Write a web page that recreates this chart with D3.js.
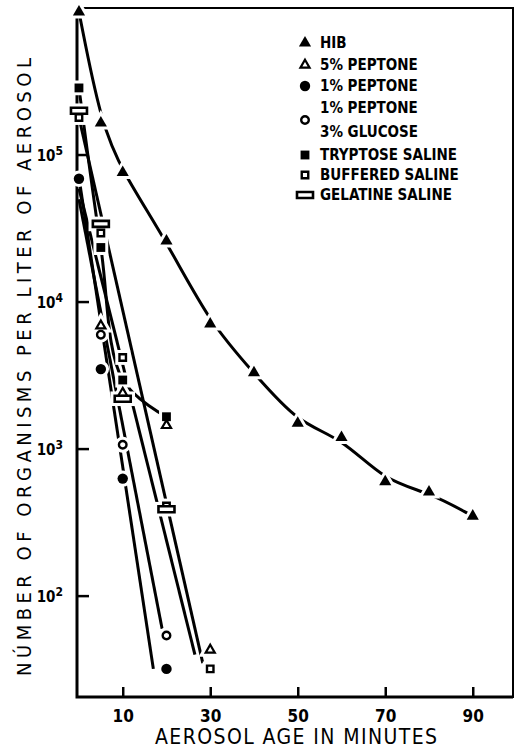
<!DOCTYPE html>
<html>
<head>
<meta charset="utf-8">
<script src="https://cdn.jsdelivr.net/npm/d3@7"></script>
<style>
  body { margin: 0; background: #fff; }
  text { font-family: "Liberation Sans Narrow", "DejaVu Sans Condensed", sans-serif; fill: #000; font-weight: 600; }
  text.title { font-weight: 400; }
</style>
</head>
<body>
<div id="chart"></div>
<script>
// values (minutes, organisms per liter)
const hibTime = [0, 5, 10, 20, 30, 40, 50, 60, 70, 80, 90];
const hibCount = [9.4e5, 1.65e5, 7.6e4, 2.6e4, 7.1e3, 3.3e3, 1.5e3, 1.2e3, 600, 510, 350];

const pep5Time = [5, 10, 20, 30];
const pep5Count = [6.9e3, 2.4e3, 1.45e3, 43];

const pep1Time = [0, 5, 10, 20];
const pep1Count = [6.9e4, 3.5e3, 630, 32];

const glucTime = [5, 10, 20];
const glucCount = [6.0e3, 1.07e3, 54];

const trypTime = [0, 5, 10, 20];
const trypCount = [2.86e5, 2.35e4, 2.95e3, 1.66e3];

const buffTime = [0, 5, 10, 20, 30];
const buffCount = [1.8e5, 2.95e4, 4.2e3, 410, 32];

const gelTime = [0, 5, 10, 20];
const gelCount = [2.0e5, 3.4e4, 2.2e3, 390];

// straight fitted lines, start and end
const pep1Fit = [[0, 7e4], [17, 32]];
const glucFit = [[0, 5e4], [19, 60]];
const pep5Fit = [[0, 5.9e4], [26.5, 40]];
const buffFit = [[0, 1.8e5], [28.3, 35]];

const xTicks = [10, 30, 50, 70, 90];
const yTicks = [1e2, 1e3, 1e4, 1e5];
const yTickExp = ["2", "3", "4", "5"];

const legendLabels = [["HIB"], ["5% PEPTONE"], ["1% PEPTONE"], ["1% PEPTONE", "3% GLUCOSE"],
  ["TRYPTOSE SALINE"], ["BUFFERED SALINE"], ["GELATINE SALINE"]];

const zip = (t, v) => t.map((d, i) => [d, v[i]]);

const width = 528, height = 748;
const plotLeft = 77, plotRight = 513, plotTop = 8, plotBottom = 697;

const svg = d3.select("#chart").append("svg")
  .attr("width", width).attr("height", height);

const x = d3.scaleLinear().domain([-0.45, 99.2]).range([plotLeft, plotRight]);
const y = d3.scaleLog().domain([20.6, 1e6]).range([plotBottom, plotTop]);

// frame
svg.append("rect")
  .attr("x", plotLeft).attr("y", plotTop)
  .attr("width", plotRight - plotLeft).attr("height", plotBottom - plotTop)
  .attr("fill", "none").attr("stroke", "#000").attr("stroke-width", 2);
svg.append("path")
  .attr("d", `M${plotLeft},${plotTop}V${plotBottom}H${plotRight}`)
  .attr("fill", "none").attr("stroke", "#000").attr("stroke-width", 3);

// x axis
const xAxis = svg.append("g")
  .attr("transform", `translate(0,${plotBottom})`)
  .call(d3.axisBottom(x).tickValues(xTicks).tickSizeInner(-10).tickSizeOuter(0).tickPadding(13));
xAxis.select(".domain").remove();
xAxis.attr("font-family", null);
xAxis.selectAll(".tick line").attr("stroke-width", 2.5);
xAxis.selectAll(".tick text").attr("font-size", 17);

// y ticks
const yt = svg.append("g").selectAll("g").data(yTicks).join("g")
  .attr("transform", (d) => `translate(0,${y(d)})`);
yt.append("line").attr("x1", plotLeft).attr("x2", plotLeft + 12)
  .attr("stroke", "#000").attr("stroke-width", 2.5);
const ylab = yt.append("text").attr("x", 63).attr("y", 6)
  .attr("text-anchor", "end").attr("font-size", 15);
ylab.append("tspan").text("10");
ylab.append("tspan").attr("dy", -6).attr("font-size", 12).text((d, i) => yTickExp[i]);

// axis titles
svg.append("text").attr("class", "title")
  .attr("x", 296).attr("y", 744)
  .attr("text-anchor", "middle").attr("font-size", 21)
  .attr("textLength", 282).attr("lengthAdjust", "spacing")
  .text("AEROSOL AGE IN MINUTES");
svg.append("text").attr("class", "title")
  .attr("transform", "translate(31,367) rotate(-90)")
  .attr("text-anchor", "middle").attr("font-size", 20)
  .attr("textLength", 618).attr("lengthAdjust", "spacing")
  .text("NÚMBER OF ORGANISMS PER LITER OF AEROSOL");

// lines
const smooth = d3.line().x((d) => x(d[0])).y((d) => y(d[1])).curve(d3.curveBasis);
const curve = d3.line().x((d) => x(d[0])).y((d) => y(d[1])).curve(d3.curveCatmullRom);
const straight = d3.line().x((d) => x(d[0])).y((d) => y(d[1]));
const lines = svg.append("g").attr("fill", "none").attr("stroke", "#000").attr("stroke-width", 3);
lines.append("path").attr("d", smooth(zip(hibTime, hibCount)));
lines.append("path").attr("d", curve(zip(trypTime, trypCount)));
[pep1Fit, glucFit, pep5Fit, buffFit].forEach((f) => lines.append("path").attr("d", straight(f)));

// marker shapes
const gelSymbol = { draw(ctx) { ctx.rect(-8, -3, 16, 6); } };
const shapes = [
  { type: d3.symbolTriangle, size: 64, fill: "#000", sw: 0 },
  { type: d3.symbolTriangle, size: 36, fill: "#fff", sw: 2.2 },
  { type: d3.symbolCircle, size: 85, fill: "#000", sw: 0 },
  { type: d3.symbolCircle, size: 45, fill: "#fff", sw: 2.4 },
  { type: d3.symbolSquare, size: 78, fill: "#000", sw: 0 },
  { type: d3.symbolSquare, size: 42, fill: "#fff", sw: 2.4 },
  { type: gelSymbol, size: 1, fill: "#fff", sw: 2.6 },
];

const series = [
  zip(hibTime, hibCount), zip(pep5Time, pep5Count), zip(pep1Time, pep1Count),
  zip(glucTime, glucCount), zip(trypTime, trypCount), zip(buffTime, buffCount),
  zip(gelTime, gelCount),
];

function marker(sel, s) {
  sel.attr("d", d3.symbol().type(s.type).size(s.size)())
    .attr("fill", s.fill).attr("stroke", "#000").attr("stroke-width", s.sw);
}

// white halos that break the lines round each marker
const halo = svg.append("g");
const marks = svg.append("g");
series.forEach((pts, i) => {
  const s = shapes[i];
  halo.selectAll(null).data(pts).join("path")
    .attr("transform", (d) => `translate(${x(d[0])},${y(d[1])})`)
    .attr("d", d3.symbol().type(s.type).size(s.size)())
    .attr("fill", "#fff").attr("stroke", "#fff").attr("stroke-width", s.sw + 6);
});
series.forEach((pts, i) => {
  marks.selectAll(null).data(pts).join("path")
    .attr("transform", (d) => `translate(${x(d[0])},${y(d[1])})`)
    .call(marker, shapes[i]);
});

// legend
const rowY = [43, 65, 86, 120, 155, 175, 195];
const legend = svg.append("g");
legendLabels.forEach((rows, i) => {
  legend.append("path")
    .attr("transform", `translate(305,${rowY[i]})`)
    .call(marker, shapes[i]);
  const t = legend.append("text").attr("x", 320).attr("font-size", 15);
  rows.forEach((l, j) => {
    t.append("tspan").attr("x", 320)
      .attr("y", rowY[i] + 5 + (rows.length > 1 ? (j - 0.5) * 24 : 0))
      .text(l);
  });
});
</script>
</body>
</html>
